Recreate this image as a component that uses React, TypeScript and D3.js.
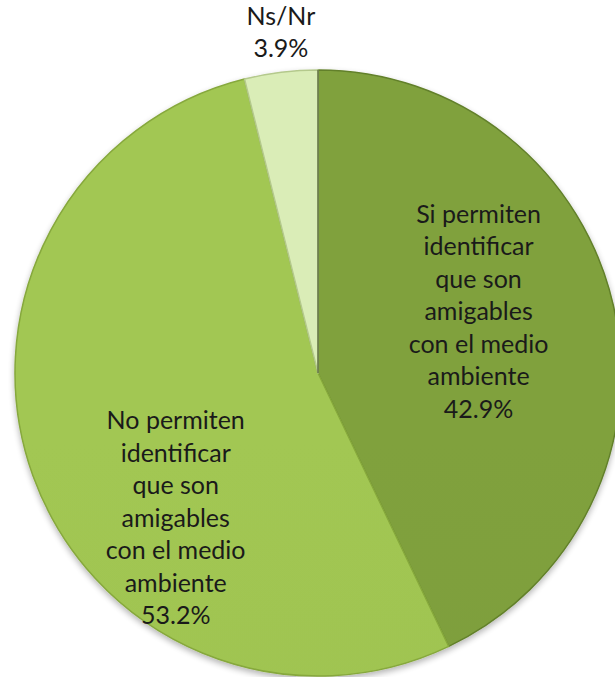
import * as d3 from 'd3'

const categories = ['Si permiten identificar que son amigables con el medio ambiente', 'No permiten identificar que son amigables con el medio ambiente', 'Ns/Nr']
const values = [42.9, 53.2, 3.9]
const labelLines = [
  ['Si permiten', 'identificar', 'que son', 'amigables', 'con el medio', 'ambiente'],
  ['No permiten', 'identificar', 'que son', 'amigables', 'con el medio', 'ambiente'],
  ['Ns/Nr'],
]
const colors = ['#7c9c3c', '#9dc150', '#d4e6b2']
const edgeColors = ['#62802a', '#86a83c', '#b4c98c']

const W = 615
const H = 677
const cx = 318
const cy = 373
const R = 303
// label placement (angle in degrees clockwise from top, radius)
const labelPos = [
  { angle: 69, r: 172 },
  { angle: 224.5, r: 203 },
  { angle: 353.8, r: 343 },
]
const lineH = 32.5

const App = () => {
  const pie = d3.pie<number>().sort(null).value(d => d)
  const arcs = pie(values)
  const arc = d3.arc<d3.PieArcDatum<number>>().innerRadius(0).outerRadius(R)

  return (
    <svg width={W} height={H} style={{ position: 'absolute', left: 0, top: 0 }}
      fontFamily="Lato, 'Open Sans', sans-serif">
      <defs>
        {colors.map((c, i) => (
          <linearGradient key={i} id={`g${i}`} x1="0" y1={cy - R} x2="0" y2={cy + R} gradientUnits="userSpaceOnUse">
            <stop offset="0%" stopColor={d3.color(c)!.brighter(0.08).formatHex()} />
            <stop offset="85%" stopColor={c} />
            <stop offset="100%" stopColor={d3.color(c)!.darker(0.2).formatHex()} />
          </linearGradient>
        ))}
        <filter id="shadow" x="-10%" y="-10%" width="120%" height="120%">
          <feGaussianBlur in="SourceAlpha" stdDeviation="3" />
          <feOffset dx="0" dy="3" />
          <feComponentTransfer><feFuncA type="linear" slope="0.3" /></feComponentTransfer>
          <feMerge><feMergeNode /><feMergeNode in="SourceGraphic" /></feMerge>
        </filter>
      </defs>
      <g transform={`translate(${cx},${cy})`} filter="url(#shadow)">
        {arcs.map((a, i) => (
          <path key={categories[i]} d={arc(a) || ''} fill={`url(#g${i})`} stroke={edgeColors[i]} strokeWidth={1.5} strokeLinejoin="round" />
        ))}
        <line x1={0} y1={0} x2={0} y2={-R} stroke="#3d4a22" strokeWidth={1} />
      </g>
      {arcs.map((a, i) => {
        const ang = (labelPos[i].angle * Math.PI) / 180
        const x = cx + labelPos[i].r * Math.sin(ang)
        const y = cy - labelPos[i].r * Math.cos(ang)
        const lines = [...labelLines[i], `${values[i].toFixed(1)}%`]
        const y0 = y - ((lines.length - 1) * lineH) / 2
        return (
          <text key={i} x={x} textAnchor="middle" fontSize={25} fill="#1a1a1a">
            {lines.map((t, j) => (
              <tspan key={j} x={x} y={y0 + j * lineH} dy="0.35em">{t}</tspan>
            ))}
          </text>
        )
      })}
    </svg>
  )
}

export default App
